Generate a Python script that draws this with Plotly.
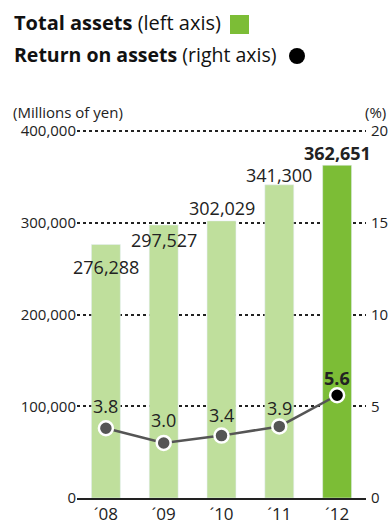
import plotly.graph_objects as go

years = ["´08", "´09", "´10", "´11", "´12"]
total_assets = [276288, 297527, 302029, 341300, 362651]
roa = [3.8, 3.0, 3.4, 3.9, 5.6]
left_ticks = [0, 100000, 200000, 300000, 400000]
right_ticks = [0, 5, 10, 15, 20]

LIGHT = "#bfdf9c"
DARK = "#7cbd36"
FONT = "Open Sans"

bar_colors = [LIGHT] * 4 + [DARK]
marker_colors = ["#555555"] * 4 + ["#000000"]
bar_label_shift = [-22, -15, 13, 10, 12]
roa_label_shift = [22, 23, 21, 18, 17]

W, H = 391, 521
L, R, T, B = 77, 25, 127, 23
pw, ph = W - L - R, H - T - B
# pixel row of the 400,000 / 20 % line
TOP_PX = 131
scale = ph / (H - B - TOP_PX)

def px(x): return (x - L) / pw
def py(y): return (H - B - y) / ph

fig = go.Figure()
fig.add_trace(go.Bar(x=years, y=total_assets, marker_color=bar_colors, width=0.5,
                     yaxis="y", hoverinfo="skip"))
fig.add_trace(go.Scatter(x=years, y=roa, yaxis="y2", mode="lines+markers",
                         line=dict(color="#555555", width=2.5),
                         marker=dict(size=14, color=marker_colors,
                                     line=dict(color="white", width=2.5)),
                         hoverinfo="skip"))

anns = []
for i, (yr, v) in enumerate(zip(years, total_assets)):
    txt = f"{v:,}"
    if i == len(years) - 1:
        txt = f"<b>{txt}</b>"
    anns.append(dict(x=yr, y=v, xref="x", yref="y", text=txt, showarrow=False,
                     yanchor="middle", yshift=bar_label_shift[i],
                     font=dict(family=FONT, size=18, color="#222")))
for i, (yr, v) in enumerate(zip(years, roa)):
    txt = f"{v:.1f}"
    if i == len(years) - 1:
        txt = f"<b>{txt}</b>"
    anns.append(dict(x=yr, y=v, xref="x", yref="y2", text=txt, showarrow=False,
                     yanchor="middle", yshift=roa_label_shift[i],
                     font=dict(family=FONT, size=18, color="#222")))

anns += [
    dict(xref="paper", yref="paper", x=px(12), y=py(22), xanchor="left", yanchor="middle",
         text="<b>Total assets</b> (left axis)", showarrow=False,
         font=dict(family=FONT, size=20, color="#111")),
    dict(xref="paper", yref="paper", x=px(12), y=py(55), xanchor="left", yanchor="middle",
         text="<b>Return on assets</b> (right axis)", showarrow=False,
         font=dict(family=FONT, size=19.5, color="#111")),
    dict(xref="paper", yref="paper", x=px(11), y=py(112), xanchor="left", yanchor="middle",
         text="(Millions of yen)", showarrow=False,
         font=dict(family=FONT, size=15, color="#222")),
    dict(xref="paper", yref="paper", x=px(388), y=py(112), xanchor="right", yanchor="middle",
         text="(%)", showarrow=False,
         font=dict(family=FONT, size=15, color="#222")),
]

shapes = [
    dict(type="rect", xref="paper", yref="paper", x0=px(230), x1=px(249), y0=py(34), y1=py(15),
         fillcolor=DARK, line=dict(width=0)),
    dict(type="circle", xref="paper", yref="paper", x0=px(289), x1=px(305), y0=py(64), y1=py(48),
         fillcolor="black", line=dict(width=0)),
]

fig.update_layout(
    width=W, height=H, margin=dict(l=L, r=R, t=T, b=B),
    paper_bgcolor="white", plot_bgcolor="white", showlegend=False,
    font=dict(family=FONT, size=15, color="#222"),
    xaxis=dict(range=[-0.5, 4.5], showline=True, linecolor="#222", linewidth=1.5,
               ticks="", showgrid=False, tickfont=dict(size=17), automargin=False),
    yaxis=dict(range=[0, 400000 * scale], tickvals=left_ticks, tickformat=",",
               showgrid=True, gridcolor="#222", griddash="dot", gridwidth=1.5,
               zeroline=False, ticks="", tickfont=dict(size=15), automargin=False),
    yaxis2=dict(range=[0, 20 * scale], tickvals=right_ticks, overlaying="y", side="right",
                showgrid=False, zeroline=False, ticks="", tickfont=dict(size=15),
                ticklabelstandoff=4, automargin=False),
    annotations=anns, shapes=shapes,
)

fig.write_html("out.html", config={"displayModeBar": False},
               post_script="document.body.style.margin='0';document.body.style.overflow='hidden';")
